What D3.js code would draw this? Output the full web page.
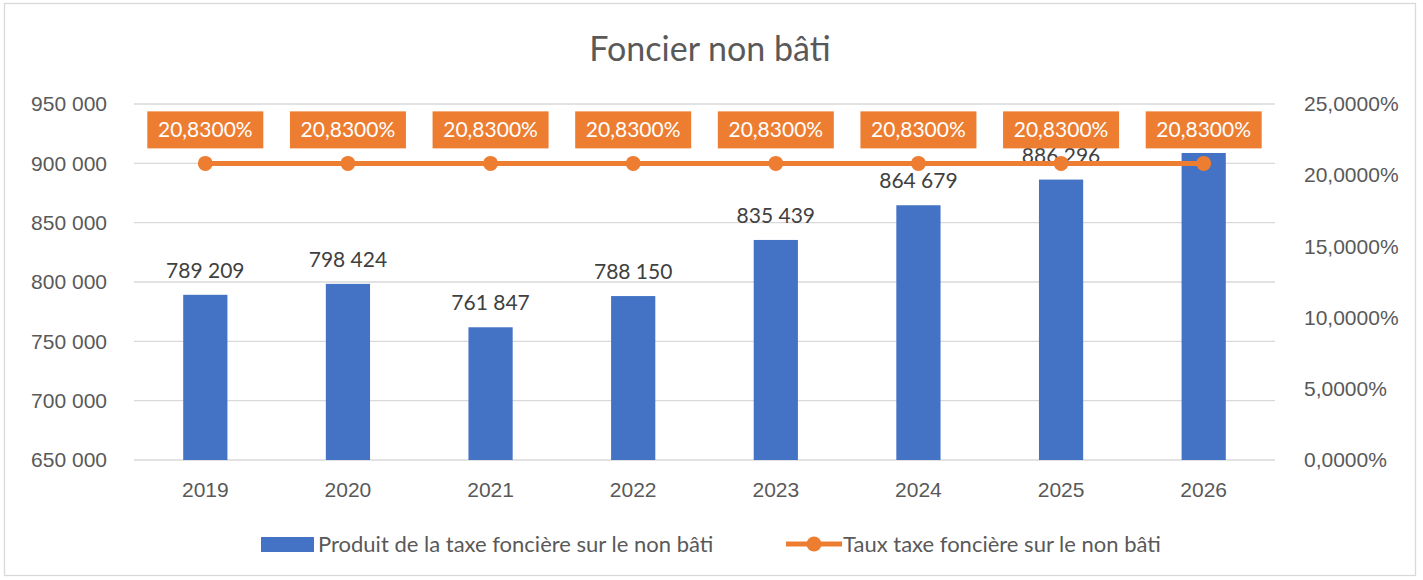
<!DOCTYPE html>
<html lang="fr">
<head>
  <meta charset="UTF-8" />
  <title>Foncier non bâti</title>
  <script src="https://d3js.org/d3.v7.min.js"></script>
  <style>
    body { margin: 0; background: #fff; font-family: Lato, "Open Sans", sans-serif; }
    .tick text { fill: #595959; font-size: 21px; }
    .grid line { stroke: #d9d9d9; stroke-width: 1.3; }
  </style>
</head>
<body>
  <svg width="1423" height="580"></svg>

  <script>
    // Data
    const years = ["2019", "2020", "2021", "2022", "2023", "2024", "2025", "2026"];
    const produit = [789209, 798424, 761847, 788150, 835439, 864679, 886296, 908700];
    const taux = [20.83, 20.83, 20.83, 20.83, 20.83, 20.83, 20.83, 20.83];
    const leftTicks = [650000, 700000, 750000, 800000, 850000, 900000, 950000];
    const rightTicks = [0, 5, 10, 15, 20, 25];

    const svg = d3.select("svg");
    const margin = { top: 104, right: 148, bottom: 120, left: 134 };
    const width = 1423, height = 580;

    const orange = "#ED7D31", blue = "#4472C4";
    const fmtNum = d => d3.format(",")(d).replace(/,/g, " ");
    const fmtPct = d => d.toFixed(4).replace(".", ",") + "%";

    // outer frame
    svg.append("rect")
      .attr("x", 4.5).attr("y", 3.5)
      .attr("width", 1411).attr("height", 572)
      .attr("fill", "#fff").attr("stroke", "#d9d9d9").attr("stroke-width", 1.3);

    // Scales
    const x = d3.scaleBand()
      .domain(years)
      .range([margin.left, width - margin.right])
      .paddingInner(0.69).paddingOuter(0.345);

    const yL = d3.scaleLinear()
      .domain([650000, 950000])
      .range([height - margin.bottom, margin.top]);

    const yR = d3.scaleLinear()
      .domain([0, 25])
      .range([height - margin.bottom, margin.top]);

    // Gridlines
    svg.append("g")
      .attr("class", "grid")
      .selectAll("line")
      .data(leftTicks)
      .join("line")
      .attr("x1", margin.left).attr("x2", width - margin.right)
      .attr("y1", d => yL(d)).attr("y2", d => yL(d));

    // Title
    svg.append("text")
      .attr("x", 710).attr("y", 61)
      .attr("text-anchor", "middle")
      .attr("fill", "#595959")
      .attr("font-size", 34)
      .text("Foncier non bâti");

    // Bars
    svg.append("g")
      .selectAll("rect")
      .data(years)
      .join("rect")
      .attr("x", d => x(d))
      .attr("width", x.bandwidth())
      .attr("y", (d, i) => yL(produit[i]))
      .attr("height", (d, i) => yL(650000) - yL(produit[i]))
      .attr("fill", blue);

    // Bar labels (the 2026 one ends up hidden under its orange label, as in the source)
    svg.append("g")
      .selectAll("text")
      .data(years)
      .join("text")
      .attr("x", d => x(d) + x.bandwidth() / 2)
      .attr("y", (d, i) => yL(produit[i]) - 17)
      .attr("text-anchor", "middle")
      .attr("fill", "#404040")
      .attr("font-size", 21)
      .text((d, i) => fmtNum(produit[i]));

    // Line
    const cx = d => x(d) + x.bandwidth() / 2;
    const line = d3.line()
      .x(d => cx(d))
      .y((d, i) => yR(taux[i]));

    svg.append("path")
      .datum(years)
      .attr("d", line)
      .attr("fill", "none")
      .attr("stroke", orange)
      .attr("stroke-width", 5);

    svg.append("g")
      .selectAll("circle")
      .data(years)
      .join("circle")
      .attr("cx", cx)
      .attr("cy", (d, i) => yR(taux[i]))
      .attr("r", 7.5)
      .attr("fill", orange);

    // Line labels
    const lbl = svg.append("g")
      .selectAll("g")
      .data(years)
      .join("g")
      .attr("transform", (d, i) => `translate(${cx(d)},${yR(taux[i]) - 34})`);

    lbl.append("rect")
      .attr("x", -58).attr("y", -18)
      .attr("width", 116).attr("height", 37)
      .attr("fill", orange);

    lbl.append("text")
      .attr("text-anchor", "middle")
      .attr("dy", "0.35em")
      .attr("fill", "#fff")
      .attr("font-size", 21)
      .text((d, i) => fmtPct(taux[i]));

    // Axes
    const axL = svg.append("g")
      .attr("transform", `translate(${margin.left - 24},0)`)
      .call(d3.axisLeft(yL).tickValues(leftTicks).tickFormat(fmtNum).tickSize(0));
    axL.select(".domain").remove();

    const axR = svg.append("g")
      .attr("transform", `translate(${width - margin.right + 26},0)`)
      .call(d3.axisRight(yR).tickValues(rightTicks).tickFormat(fmtPct).tickSize(0));
    axR.select(".domain").remove();

    const axB = svg.append("g")
      .attr("transform", `translate(0,${height - margin.bottom + 19})`)
      .call(d3.axisBottom(x).tickSize(0));
    axB.select(".domain").remove();
    axB.selectAll("text").attr("dy", "0.71em");

    // Legend
    const leg = svg.append("g").attr("font-size", 22).attr("fill", "#595959");
    leg.append("rect")
      .attr("x", 261).attr("y", 537).attr("width", 53).attr("height", 15)
      .attr("fill", blue);
    leg.append("text")
      .attr("x", 318).attr("y", 544).attr("dy", "0.35em")
      .text("Produit de la taxe foncière sur le non bâti");
    leg.append("line")
      .attr("x1", 786).attr("x2", 842).attr("y1", 544).attr("y2", 544)
      .attr("stroke", orange).attr("stroke-width", 5);
    leg.append("circle")
      .attr("cx", 814).attr("cy", 544).attr("r", 7.5).attr("fill", orange);
    leg.append("text")
      .attr("x", 843).attr("y", 544).attr("dy", "0.35em")
      .text("Taux taxe foncière sur le non bâti");
  </script>
</body>
</html>
